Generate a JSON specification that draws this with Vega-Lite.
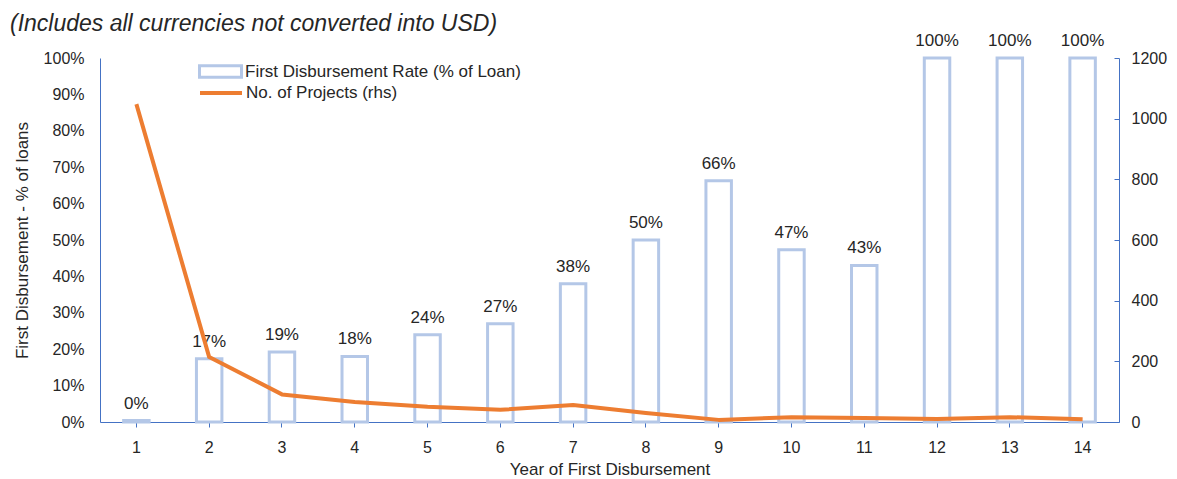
{
  "$schema": "https://vega.github.io/schema/vega-lite/v6.json",
  "width": 1019,
  "height": 364,
  "autosize": {"type": "none"},
  "padding": {"left": 100, "top": 58, "right": 58, "bottom": 57},
  "background": "white",
  "title": {
    "text": "(Includes all currencies not converted into USD)",
    "anchor": "start",
    "frame": "group",
    "dx": -90,
    "offset": -4,
    "font": "Liberation Sans",
    "fontSize": 23,
    "fontStyle": "italic",
    "fontWeight": "normal",
    "color": "#262626"
  },
  "config": {
    "view": {"stroke": null},
    "font": "Liberation Sans",
    "axis": {
      "grid": false,
      "domainColor": "#4472c4",
      "tickColor": "#4472c4",
      "labelColor": "#262626",
      "labelFont": "Liberation Sans",
      "labelFontSize": 16,
      "labelOverlap": false,
      "titleFont": "Liberation Sans",
      "titleFontSize": 17,
      "titleFontWeight": "normal",
      "titleColor": "#262626"
    },
    "axisY": {"labelOverlap": false, "labelSeparation": -30},
    "legend": {
      "labelFont": "Liberation Sans",
      "labelFontSize": 17,
      "labelColor": "#262626",
      "labelLimit": 400,
      "labelOffset": 2
    }
  },
  "data": {
    "values": [
      {"year": "1", "rate": 0.004, "projects": 1048},
      {"year": "2", "rate": 0.174, "projects": 214},
      {"year": "3", "rate": 0.192, "projects": 91},
      {"year": "4", "rate": 0.18, "projects": 66},
      {"year": "5", "rate": 0.24, "projects": 50},
      {"year": "6", "rate": 0.27, "projects": 40},
      {"year": "7", "rate": 0.38, "projects": 56},
      {"year": "8", "rate": 0.50, "projects": 30},
      {"year": "9", "rate": 0.663, "projects": 7},
      {"year": "10", "rate": 0.473, "projects": 16},
      {"year": "11", "rate": 0.43, "projects": 13},
      {"year": "12", "rate": 1.0, "projects": 10},
      {"year": "13", "rate": 1.0, "projects": 16},
      {"year": "14", "rate": 1.0, "projects": 9}
    ]
  },
  "encoding": {
    "x": {
      "field": "year",
      "type": "ordinal",
      "sort": null,
      "scale": {"paddingInner": 0.65, "paddingOuter": 0.325},
      "axis": {
        "title": "Year of First Disbursement",
        "labelAngle": 0,
        "tickSize": 5,
        "labelPadding": 12,
        "titlePadding": 6
      }
    }
  },
  "layer": [
    {
      "encoding": {
        "y": {
          "field": "rate",
          "type": "quantitative",
          "scale": {"domain": [0, 1]},
          "axis": {
            "title": "First Disbursement - % of loans",
            "format": ".0%",
            "values": [0, 0.1, 0.2, 0.3, 0.4, 0.5, 0.6, 0.7, 0.8, 0.9, 1.0],
            "labelOverlap": false,
            "labelSeparation": -30,
            "ticks": false,
            "labelPadding": 16,
            "titlePadding": 12
          }
        }
      },
      "layer": [
        {
          "mark": {"type": "bar", "fill": "white", "strokeWidth": 3},
          "encoding": {
            "stroke": {
              "datum": "First Disbursement Rate (% of Loan)",
              "scale": {
                "domain": ["First Disbursement Rate (% of Loan)"],
                "range": ["#b4c7e7"]
              },
              "legend": {
                "title": null,
                "orient": "none",
                "legendX": 98,
                "legendY": -9,
                "symbolSize": 1764,
                "symbolType": "M-1,-0.27H1V0.27H-1Z",
                "symbolFillColor": "white",
                "symbolStrokeWidth": 3
              }
            }
          }
        },
        {
          "mark": {"type": "text", "dy": -17, "fontSize": 17, "color": "#262626", "font": "Liberation Sans"},
          "encoding": {
            "text": {"field": "rate", "type": "quantitative", "format": ".0%"}
          }
        }
      ]
    },
    {
      "mark": {"type": "line", "strokeWidth": 4, "strokeJoin": "round"},
      "encoding": {
        "y": {
          "field": "projects",
          "type": "quantitative",
          "scale": {"domain": [0, 1200]},
          "axis": {
            "orient": "right",
            "title": null,
            "format": "d",
            "values": [0, 200, 400, 600, 800, 1000, 1200],
            "tickSize": -5,
            "labelPadding": 17
          }
        },
        "color": {
          "datum": "No. of Projects (rhs)",
          "scale": {"domain": ["No. of Projects (rhs)"], "range": ["#ed7d31"]},
          "legend": {
            "title": null,
            "orient": "none",
            "legendX": 98,
            "legendY": 12,
            "symbolSize": 1764,
            "symbolType": "stroke",
            "symbolStrokeWidth": 4
          }
        }
      }
    }
  ],
  "resolve": {"scale": {"y": "independent"}}
}
